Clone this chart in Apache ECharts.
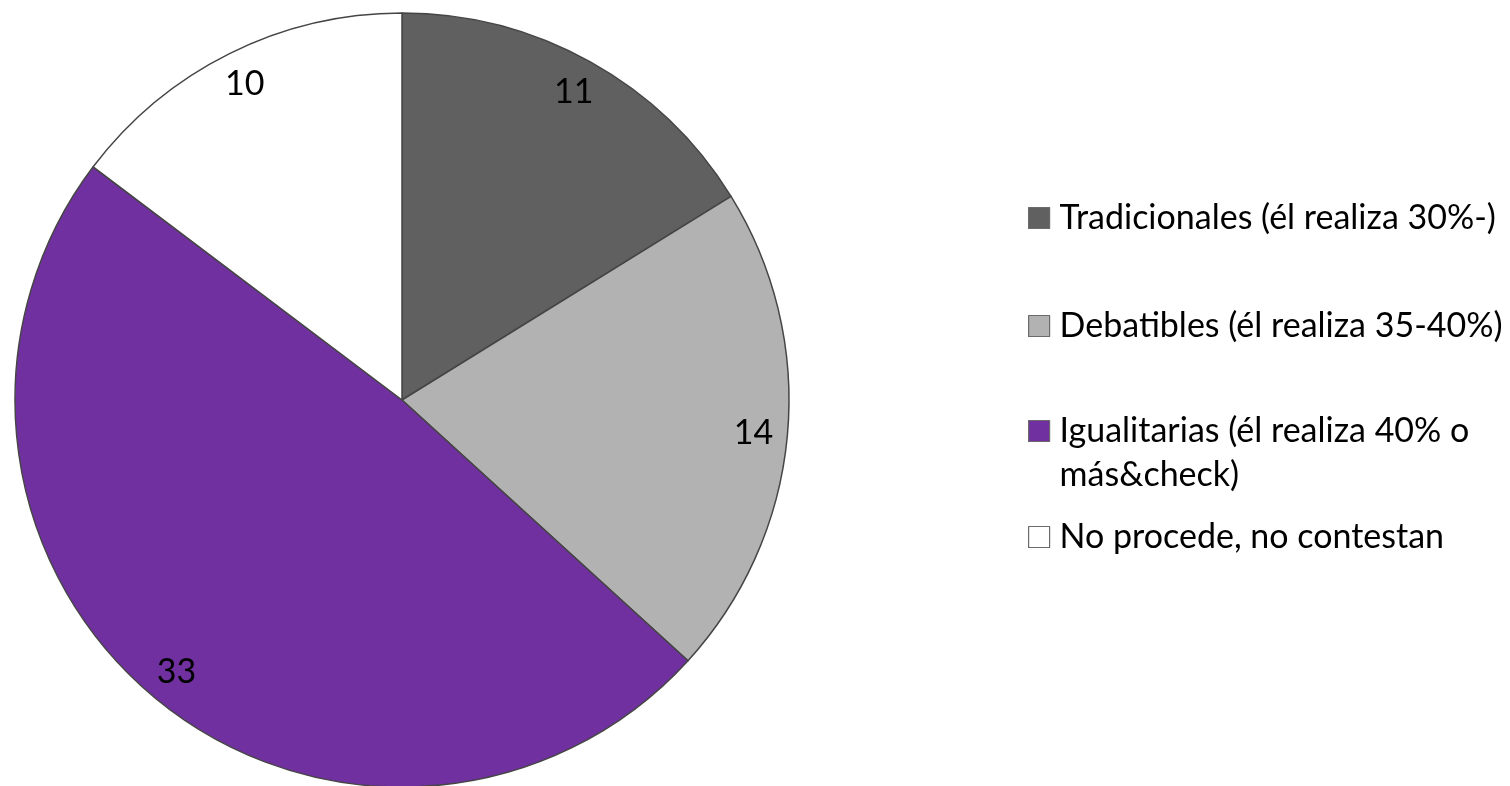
<!DOCTYPE html>
<html>
<head>
<meta charset="utf-8">
<script src="https://cdn.jsdelivr.net/npm/echarts@6/dist/echarts.min.js"></script>
<style>
html,body{margin:0;padding:0;background:#fff;}
#chart{width:1510px;height:786px;}
</style>
</head>
<body>
<div id="chart"></div>
<script>
const categories = [
  'Tradicionales (él realiza 30%-)',
  'Debatibles (él realiza 35-40%)',
  'Igualitarias (él realiza 40% o más&check)',
  'No procede, no contestan'
];
const values = [11, 14, 33, 10];
const palette = ['#606060', '#b2b2b2', '#7030a0', '#ffffff'];

const FONT = 'Lato, "Open Sans", sans-serif';
const chart = echarts.init(document.getElementById('chart'));

const pieData = categories.map((c, i) => ({ name: c, value: values[i], itemStyle: { color: palette[i] } }));
const labelData = categories.map((c, i) => ({ name: c, value: values[i] }));

function legendText(name) {
  if (name === categories[2]) return ' \nIgualitarias (él realiza 40% o\nmás&check)';
  return name;
}

const legendTops = [196, 304, 365, 515];
const legends = categories.map((c, i) => ({
  data: [c],
  orient: 'vertical',
  left: 1028,
  top: legendTops[i],
  padding: 0,
  icon: 'rect',
  itemWidth: 21,
  itemHeight: 21,
  selectedMode: false,
  formatter: legendText,
  itemStyle: { borderColor: '#6a6a6a', borderWidth: 1.2 },
  textStyle: {
    fontFamily: FONT, fontSize: 34, lineHeight: 44, color: '#000',
    padding: [0, 0, 0, 5]
  }
}));

chart.setOption({
  animation: false,
  backgroundColor: '#fff',
  legend: legends,
  series: [
    {
      type: 'pie',
      center: [402, 400],
      radius: [0, 387],
      startAngle: 90,
      clockwise: true,
      data: pieData,
      label: { show: false },
      labelLine: { show: false },
      itemStyle: { borderColor: '#454545', borderWidth: 1.5 },
      emphasis: { disabled: true }
    },
    {
      type: 'pie',
      center: [402, 400],
      radius: [313, 387],
      startAngle: 90,
      clockwise: true,
      silent: true,
      legendHoverLink: false,
      data: labelData,
      itemStyle: { color: 'rgba(0,0,0,0)', borderWidth: 0 },
      label: {
        show: true,
        position: 'inside',
        formatter: '{c}',
        fontFamily: FONT,
        fontSize: 34,
        color: '#000'
      },
      labelLine: { show: false },
      emphasis: { disabled: true }
    }
  ]
});
</script>
</body>
</html>
